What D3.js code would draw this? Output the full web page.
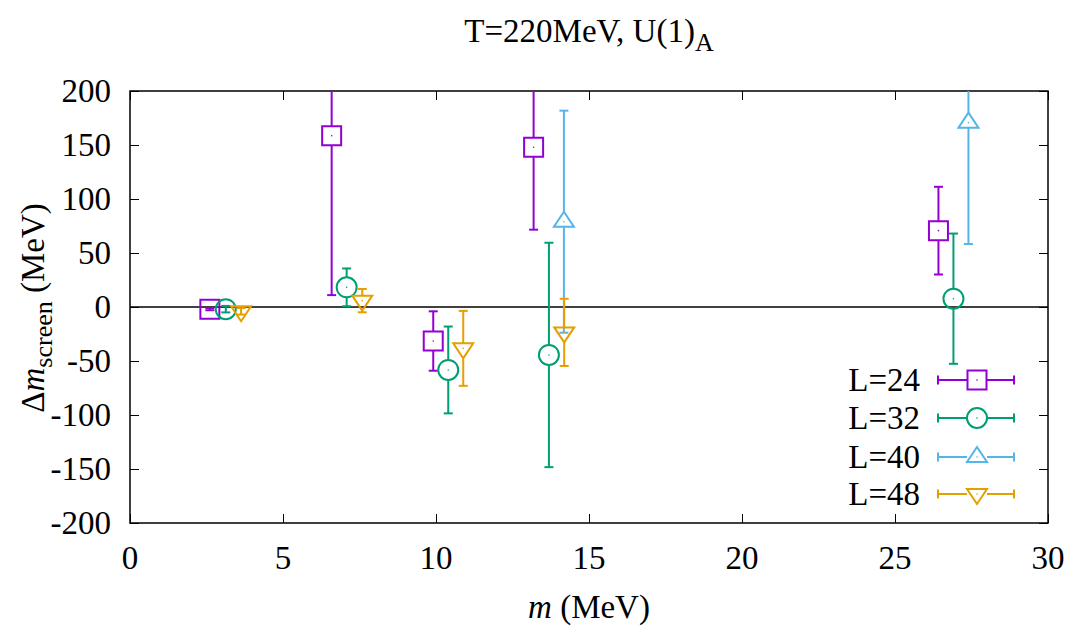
<!DOCTYPE html>
<html>
<head>
<meta charset="utf-8">
<script src="https://cdn.jsdelivr.net/npm/d3@7"></script>
<style>
  html, body { margin: 0; padding: 0; background: #fff; }
  svg { display: block; }
</style>
</head>
<body>
<script>
// ---- data ----
const seriesNames = ["L=24", "L=32", "L=40", "L=48"];
const seriesColors = ["#9400d3", "#009e73", "#56b4e9", "#e69f00"];
const seriesShapes = ["square", "circle", "triUp", "triDown"];

const x24 = [2.61, 6.59, 9.91, 13.19, 26.42];
const y24 = [-2, 158.6, -31.5, 147.9, 70.7];
const e24 = [1, 147.6, 27.5, 76.3, 40.6];

const x32 = [3.13, 7.08, 10.40, 13.69, 26.91];
const y32 = [-2, 18.2, -58.3, -44.4, 7.7];
const e32 = [3, 17.5, 40.2, 103.9, 60.3];

const x40 = [14.18, 27.40];
const y40 = [79, 170.7];
const e40 = [102.8, 112.4];

const x48 = [3.63, 7.59, 10.89, 14.19];
const y48 = [-4, 5.9, -38.3, -23.5];
const e48 = [3, 10.8, 34.7, 31.1];

const xTicks = [0, 5, 10, 15, 20, 25, 30];
const yTicks = [-200, -150, -100, -50, 0, 50, 100, 150, 200];

const seriesX = [x24, x32, x40, x48];
const seriesY = [y24, y32, y40, y48];
const seriesE = [e24, e32, e40, e48];

// ---- layout ----
const W = 1071, H = 632;
const pL = 130, pR = 1048, pT = 91, pB = 523;
const FS = 33;
const FONT = "'Liberation Serif', 'Times New Roman', Times, 'DejaVu Serif', serif";

const svg = d3.select("body").append("svg").attr("width", W).attr("height", H)
  .attr("font-family", FONT);

const x = d3.scaleLinear().domain([0, 30]).range([pL, pR]);
const y = d3.scaleLinear().domain([-200, 200]).range([pB, pT]);

svg.append("defs").append("clipPath").attr("id", "plotclip")
  .append("rect").attr("x", pL).attr("y", pT).attr("width", pR - pL).attr("height", pB - pT);

// axes (ticks inward, mirrored)
const tickLen = 9;
const axB = d3.axisBottom(x).tickValues(xTicks).tickSize(-tickLen).tickFormat("");
const axT = d3.axisTop(x).tickValues(xTicks).tickSize(-tickLen).tickFormat("");
const axL = d3.axisLeft(y).tickValues(yTicks).tickSize(-tickLen).tickFormat("");
const axR = d3.axisRight(y).tickValues(yTicks).tickSize(-tickLen).tickFormat("");
[[axB, `translate(0,${pB})`], [axT, `translate(0,${pT})`], [axL, `translate(${pL},0)`], [axR, `translate(${pR},0)`]]
  .forEach(([ax, tr]) => {
    const g = svg.append("g").attr("transform", tr).call(ax);
    g.select(".domain").remove();
    g.selectAll(".tick line").attr("stroke", "#000").attr("stroke-width", 1);
  });

function txt(sel) { return sel.attr("font-family", FONT).attr("fill", "#000"); }

// tick labels
txt(svg.append("g").selectAll("text").data(xTicks).join("text"))
  .attr("x", d => x(d)).attr("y", pB + 46)
  .attr("text-anchor", "middle").attr("font-size", FS).text(d => d);
txt(svg.append("g").selectAll("text").data(yTicks).join("text"))
  .attr("x", 111).attr("y", d => y(d)).attr("dy", "0.34em")
  .attr("text-anchor", "end").attr("font-size", FS).text(d => d);

// zero line
svg.append("line").attr("x1", pL).attr("x2", pR).attr("y1", y(0)).attr("y2", y(0))
  .attr("stroke", "#000").attr("stroke-width", 1.3);

// border
svg.append("rect").attr("x", pL).attr("y", pT).attr("width", pR - pL).attr("height", pB - pT)
  .attr("fill", "none").attr("stroke", "#000").attr("stroke-width", 1.5);

// marker helpers
function markerPath(shape) {
  if (shape === "square") return "M-9.5,-9.5H9.5V9.5H-9.5Z";
  if (shape === "triUp") return "M0,-10L10,5L-10,5Z";
  if (shape === "triDown") return "M0,10L10,-5L-10,-5Z";
  return null;
}
function gapOf(shape) {
  if (shape === "square") return [-9.5, 9.5];
  if (shape === "circle") return [-10, 10];
  if (shape === "triUp") return [-10, 5];
  return [-5, 10];
}
function drawMarker(g, shape, color) {
  if (shape === "circle") {
    g.append("circle").attr("r", 10).attr("fill", "none").attr("stroke", color).attr("stroke-width", 2);
  } else {
    g.append("path").attr("d", markerPath(shape)).attr("fill", "none").attr("stroke", color)
      .attr("stroke-width", 2).attr("stroke-linejoin", "miter");
  }
  g.append("circle").attr("r", 0.8).attr("fill", color);
}

const plot = svg.append("g").attr("clip-path", "url(#plotclip)");
const capW = 4.5;

seriesNames.forEach((name, si) => {
  const color = seriesColors[si], shape = seriesShapes[si];
  const xs = seriesX[si], ys = seriesY[si], es = seriesE[si];
  const [g0, g1] = gapOf(shape);
  xs.forEach((xv, i) => {
    const cx = x(xv), cy = y(ys[i]);
    const yHi = y(ys[i] + es[i]), yLo = y(ys[i] - es[i]);
    const g = plot.append("g");
    const bar = (a, b) => g.append("line").attr("x1", cx).attr("x2", cx).attr("y1", a).attr("y2", b)
      .attr("stroke", color).attr("stroke-width", 2);
    if (yHi < cy + g0 && yLo > cy + g1) {
      bar(yHi, cy + g0);
      bar(cy + g1, yLo);
    } else {
      bar(yHi, yLo);
    }
    [yHi, yLo].forEach(yy => g.append("line").attr("x1", cx - capW).attr("x2", cx + capW)
      .attr("y1", yy).attr("y2", yy).attr("stroke", color).attr("stroke-width", 2));
    const m = plot.append("g").attr("transform", `translate(${cx},${cy})`);
    drawMarker(m, shape, color);
  });
});

// legend
const legY = [380, 418, 457, 494];
seriesNames.forEach((name, si) => {
  const color = seriesColors[si], shape = seriesShapes[si];
  const ly = legY[si];
  txt(svg.append("text")).attr("x", 920).attr("y", ly).attr("dy", "0.34em").attr("text-anchor", "end")
    .attr("font-size", FS).text(name);
  const x1 = 938, x2 = 1014, mx = 977;
  const g = svg.append("g");
  g.append("line").attr("x1", x1).attr("x2", mx - 10).attr("y1", ly).attr("y2", ly).attr("stroke", color).attr("stroke-width", 2);
  g.append("line").attr("x1", mx + 10).attr("x2", x2).attr("y1", ly).attr("y2", ly).attr("stroke", color).attr("stroke-width", 2);
  [x1, x2].forEach(xx => g.append("line").attr("x1", xx).attr("x2", xx).attr("y1", ly - capW).attr("y2", ly + capW)
    .attr("stroke", color).attr("stroke-width", 2));
  const m = svg.append("g").attr("transform", `translate(${mx},${ly})`);
  drawMarker(m, shape, color);
});

// title
const title = txt(svg.append("text")).attr("x", 589).attr("y", 42).attr("text-anchor", "middle").attr("font-size", FS);
title.append("tspan").text("T=220MeV, U(1)");
title.append("tspan").attr("font-size", 26).attr("dy", 9).text("A");

// x label
const xl = txt(svg.append("text")).attr("x", 589).attr("y", 618).attr("text-anchor", "middle").attr("font-size", FS);
xl.append("tspan").attr("font-style", "italic").text("m");
xl.append("tspan").text(" (MeV)");

// y label
const yl = txt(svg.append("text")).attr("transform", "translate(44,308) rotate(-90)").attr("text-anchor", "middle").attr("font-size", FS);
yl.append("tspan").text("Δ");
yl.append("tspan").attr("font-style", "italic").text("m");
yl.append("tspan").attr("font-size", 26).attr("dy", 8).text("screen");
yl.append("tspan").attr("dy", -8).text(" (MeV)");
</script>
</body>
</html>
